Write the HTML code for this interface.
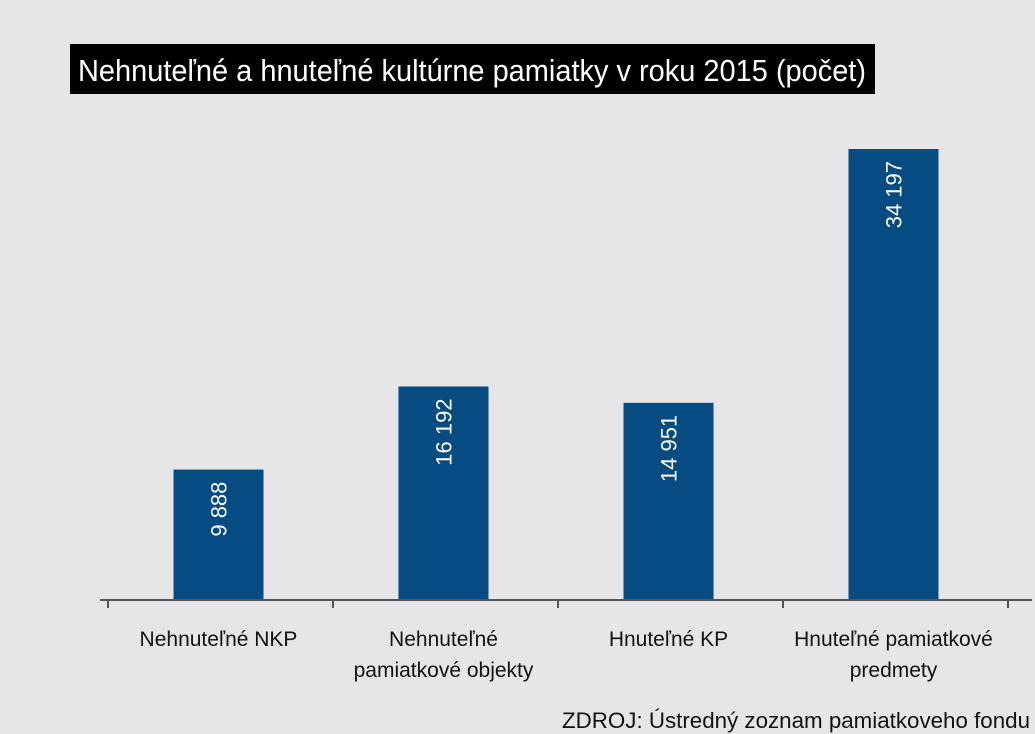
<!DOCTYPE html>
<html><head><meta charset="utf-8"><style>
body{margin:0;background:#e6e6e8;}
svg{display:block;font-family:"Liberation Sans Narrow","Liberation Sans",sans-serif;}
</style></head><body>
<svg width="1035" height="734" viewBox="0 0 1035 734">
<rect width="1035" height="734" fill="#e6e6e8"/>
<rect x="70" y="44" width="805" height="50" fill="#000"/>
<text x="78" y="81" fill="#fff" font-size="31" textLength="788" lengthAdjust="spacingAndGlyphs">Nehnuteľné a hnuteľné kultúrne pamiatky v roku 2015 (počet)</text>
<g id="plot"></g>
<text x="1030" y="728" text-anchor="end" fill="#111" font-size="22" textLength="468" lengthAdjust="spacingAndGlyphs">ZDROJ: Ústredný zoznam pamiatkoveho fondu</text>
</svg>
<script>
const categories=[["Nehnuteľné NKP"],["Nehnuteľné","pamiatkové objekty"],["Hnuteľné KP"],["Hnuteľné pamiatkové","predmety"]];
const values=[9888,16192,14951,34197];
const valueLabels=["9 888","16 192","14 951","34 197"];
const NS="http://www.w3.org/2000/svg";
const g=document.getElementById('plot');
const baseY=600,maxV=34197,maxH=451;
const x0=108,slot=225,barW=90;
function yScale(v){return baseY-v/maxV*maxH;}
function xCenter(i){return x0+slot*i+slot/2-2;}
function mk(t,a){const e=document.createElementNS(NS,t);for(const k in a)e.setAttribute(k,a[k]);g.appendChild(e);return e;}
values.forEach((v,i)=>{
  const cx=xCenter(i),y=yScale(v);
  const r=mk('rect',{x:cx-barW/2,y:y,width:barW,height:baseY-y,fill:'#064b82'});
  
  
  const t=mk('text',{x:0,y:0,fill:'#fff','font-size':'22','text-anchor':'end',transform:`translate(${cx+8},${y+12}) rotate(-90)`});
  t.textContent=valueLabels[i];
  
  
  categories[i].forEach((line,j)=>{
    const c=mk('text',{x:cx,y:646+j*31,'text-anchor':'middle',fill:'#111','font-size':'21'});
    c.textContent=line;
    
    
  });
});
const ax=mk('line',{x1:100,y1:baseY,x2:1032,y2:baseY,stroke:'#555','stroke-width':2});


for(let i=0;i<=values.length;i++){
  const tk=mk('line',{x1:x0+slot*i,y1:baseY,x2:x0+slot*i,y2:baseY+8,stroke:'#555','stroke-width':2});
  
  
}
</script>
</body></html>
